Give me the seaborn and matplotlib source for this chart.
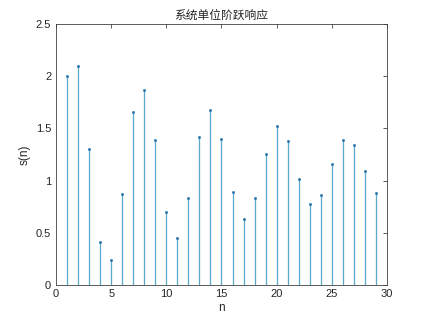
import matplotlib
matplotlib.use("Agg")
import matplotlib.pyplot as plt
import seaborn as sns
import pandas as pd

n = list(range(1, 30))
s = [2.00, 2.10, 1.30, 0.41, 0.24, 0.87, 1.66, 1.87, 1.39, 0.70,
     0.45, 0.83, 1.42, 1.68, 1.40, 0.89, 0.63, 0.83, 1.26, 1.52,
     1.38, 1.02, 0.78, 0.86, 1.16, 1.39, 1.34, 1.09, 0.88]
title = "系统单位阶跃响应"
xlabel = "n"
ylabel = "s(n)"

df = pd.DataFrame({"n": n, "s": s})

sns.set_style("white")
plt.rcParams['font.family'] = ['Liberation Sans', 'DejaVu Sans']

fig = plt.figure(figsize=(4.28, 3.21), dpi=100)
ax = fig.add_axes([0.131, 0.112, 0.773, 0.813])

color = "#5aa8cc"
ax.vlines(df["n"], 0, df["s"], colors=color, linewidth=0.9)
sns.scatterplot(data=df, x="n", y="s", ax=ax, color="#1f6fa8", s=3,
                edgecolor="#1f6fa8", linewidth=0.3, zorder=3)

ax.set_xlim(0, 30)
ax.set_ylim(0, 2.5)
ax.set_xticks([0, 5, 10, 15, 20, 25, 30])
ax.set_yticks([0, 0.5, 1, 1.5, 2, 2.5])
ax.set_yticklabels(["0", "0.5", "1", "1.5", "2", "2.5"])
ax.tick_params(direction="in", length=3, width=0.6, colors="#404040",
               labelsize=8, top=True, right=True, labelcolor="#262626")
ax.tick_params(axis="x", pad=3)
for sp in ax.spines.values():
    sp.set_visible(True)
    sp.set_color("#404040")
    sp.set_linewidth(0.6)

ax.set_title(title, fontsize=8.5, color="#262626",
             family=['Noto Sans CJK SC', 'DejaVu Sans'], pad=4)
ax.set_xlabel(xlabel, fontsize=8.5, color="#262626", labelpad=2)
ax.set_ylabel(ylabel, fontsize=8.5, color="#262626", labelpad=4)

fig.savefig("out.png", dpi=100, facecolor="white")
